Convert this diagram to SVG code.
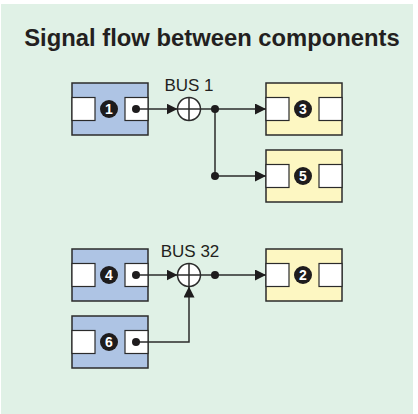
<svg xmlns="http://www.w3.org/2000/svg" width="418" height="414" viewBox="0 0 418 414">
<style>
.box{stroke:#2b2b2b;stroke-width:1.5}
.blue{fill:#aec4e4}
.yel{fill:#fdf7c2}
.port{fill:#fff;stroke:#2b2b2b;stroke-width:1.2}
.badge{fill:#1e1c1d}
.num{fill:#fff;font-family:"Liberation Sans",Arial,sans-serif;font-weight:bold;font-size:14px;text-anchor:middle}
.lbl{fill:#231f20;font-family:"Liberation Sans",Arial,sans-serif;font-size:17px;text-anchor:middle}
.wire{fill:none;stroke:#2b2b2b;stroke-width:1.5}
.dot{fill:#1e1c1d}
.sum{fill:#fff;stroke:#2b2b2b;stroke-width:1.5}
</style>
<defs>
<marker id="arr" markerUnits="userSpaceOnUse" markerWidth="12" markerHeight="12" refX="11" refY="5.5" orient="auto">
<path d="M0,0 L11,5.5 L0,11 z" fill="#1e1c1d"/>
</marker>
</defs>
<rect x="1" y="4" width="412" height="410" fill="#e0f1e6"/>
<text x="212" y="46" fill="#231f20" font-family="'Liberation Sans',Arial,sans-serif" font-weight="bold" font-size="23.8" text-anchor="middle">Signal flow between components</text>

<g id="n1">
<rect class="box blue" x="72" y="83" width="76" height="52"/>
<rect class="port" x="72" y="97.5" width="23" height="23"/>
<rect class="port" x="125" y="97.5" width="23" height="23"/>
<circle class="badge" cx="109" cy="109" r="9"/>
<text class="num" x="109" y="114">1</text>
</g>
<g id="n3">
<rect class="box yel" x="266" y="83" width="76" height="52"/>
<rect class="port" x="266" y="97.5" width="23" height="23"/>
<rect class="port" x="319" y="97.5" width="23" height="23"/>
<circle class="badge" cx="303" cy="109" r="9"/>
<text class="num" x="303" y="114">3</text>
</g>
<g id="n5">
<rect class="box yel" x="266" y="150" width="76" height="52"/>
<rect class="port" x="266" y="164.5" width="23" height="23"/>
<rect class="port" x="319" y="164.5" width="23" height="23"/>
<circle class="badge" cx="303" cy="176" r="9"/>
<text class="num" x="303" y="181">5</text>
</g>
<g id="n4">
<rect class="box blue" x="72" y="249" width="76" height="52"/>
<rect class="port" x="72" y="263.5" width="23" height="23"/>
<rect class="port" x="125" y="263.5" width="23" height="23"/>
<circle class="badge" cx="109" cy="275" r="9"/>
<text class="num" x="109" y="280">4</text>
</g>
<g id="n2">
<rect class="box yel" x="266" y="249" width="76" height="52"/>
<rect class="port" x="266" y="263.5" width="23" height="23"/>
<rect class="port" x="319" y="263.5" width="23" height="23"/>
<circle class="badge" cx="303" cy="275" r="9"/>
<text class="num" x="303" y="280">2</text>
</g>
<g id="n6">
<rect class="box blue" x="72" y="316" width="76" height="52"/>
<rect class="port" x="72" y="330.5" width="23" height="23"/>
<rect class="port" x="125" y="330.5" width="23" height="23"/>
<circle class="badge" cx="109" cy="342" r="9"/>
<text class="num" x="109" y="347">6</text>
</g>

<g id="bus1">
<text class="lbl" x="189" y="91">BUS 1</text>
<circle class="sum" cx="189" cy="109" r="11.5"/>
<path class="wire" d="M177.5,109 H200.5 M189,97.5 V120.5"/>
</g>
<g id="bus32">
<text class="lbl" x="190" y="257">BUS 32</text>
<circle class="sum" cx="189" cy="275" r="11.5"/>
<path class="wire" d="M177.5,275 H200.5 M189,263.5 V286.5"/>
</g>

<g id="connectors">
<path class="wire" d="M136,109 H177.5" marker-end="url(#arr)"/>
<path class="wire" d="M200.5,109 H266" marker-end="url(#arr)"/>
<path class="wire" d="M215,109 V176 H266" marker-end="url(#arr)"/>
<path class="wire" d="M136,275 H177.5" marker-end="url(#arr)"/>
<path class="wire" d="M200.5,275 H266" marker-end="url(#arr)"/>
<path class="wire" d="M136,342 H189 V286.5" marker-end="url(#arr)"/>
<circle class="dot" cx="136" cy="109" r="4"/>
<circle class="dot" cx="215" cy="109" r="4"/>
<circle class="dot" cx="215" cy="176" r="4"/>
<circle class="dot" cx="136" cy="275" r="4"/>
<circle class="dot" cx="215" cy="275" r="4"/>
<circle class="dot" cx="136" cy="342" r="4"/>
</g>
</svg>
